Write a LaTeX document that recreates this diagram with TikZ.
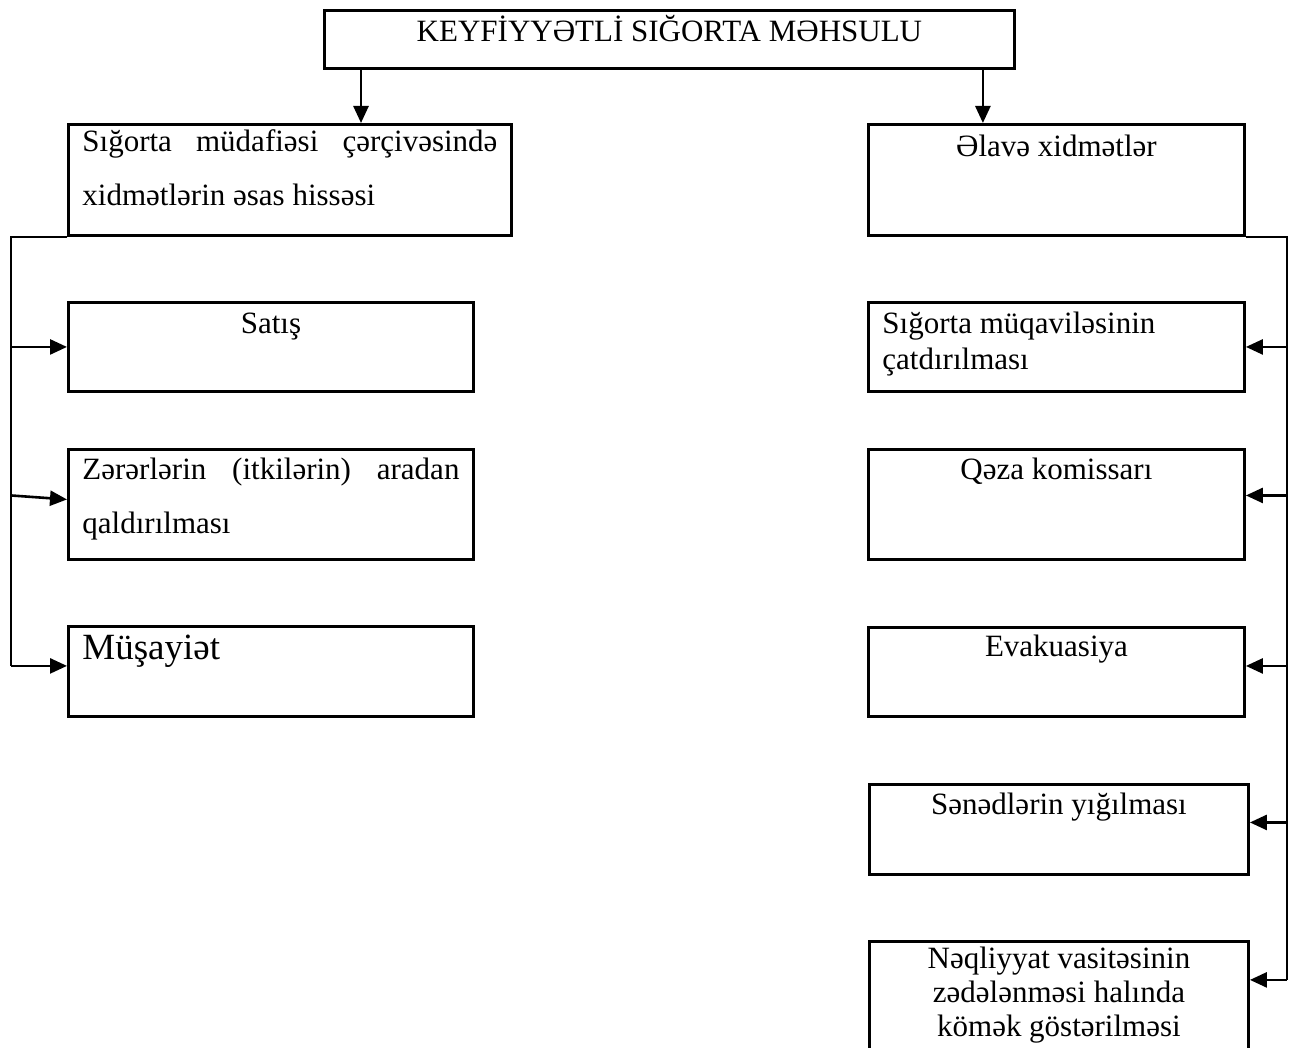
\documentclass[tikz,border=0pt]{standalone}
\usepackage{fontspec}
\setmainfont{Liberation Serif}
\usetikzlibrary{arrows.meta,calc}

\newcommand{\bodysize}{\fontsize{31}{35.6}\selectfont}

\begin{document}
\begin{tikzpicture}[x=1pt, y=-1pt,
    every node/.style={font=\bodysize},
    boxStyle/.style={draw, line width=2.9pt, inner xsep=14pt, inner ysep=0pt, anchor=north west},
    arrowLine/.style={-{Triangle[length=17pt,width=15pt]}, line width=2.6pt},
    trunkLine/.style={line width=2pt}
]
    \useasboundingbox (0,0) rectangle (1298,1048);

    % Titolo
    \node[boxStyle] (title) at (323,9) {\parbox[t][58pt][t]{662pt}{\centering\rule{0pt}{31pt}KEYFİYYƏTLİ SIĞORTA MƏHSULU}};

    % Due rami principali
    \node[boxStyle] (core) at (67,123) {\parbox[t][111pt][t]{415pt}{\fontsize{31}{54}\selectfont\rule{0pt}{27pt}Sığorta müdafiəsi çərçivəsində\linebreak xidmətlərin əsas hissəsi}};
    \node[boxStyle] (extra) at (867,123) {\parbox[t][111pt][t]{348pt}{\centering\rule{0pt}{32pt}Əlavə xidmətlər}};

    \draw[arrowLine] ([xshift=38pt]title.south west) -- ([xshift=38pt]title.south west |- core.north);
    \draw[arrowLine] ([xshift=-33pt]title.south east) -- ([xshift=-33pt]title.south east |- extra.north);

    % Colonna sinistra
    \node[boxStyle] (sales) at (67,301) {\parbox[t][89pt][t]{377pt}{\centering\rule{0pt}{31pt}Satış}};
    \node[boxStyle] (loss) at (67,448) {\parbox[t][110pt][t]{377pt}{\fontsize{31}{54}\selectfont\rule{0pt}{30pt}Zərərlərin (itkilərin) aradan\linebreak qaldırılması}};
    \node[boxStyle] (escort) at (67,625) {\parbox[t][90pt][t]{377pt}{\fontsize{37}{42}\selectfont\rule{0pt}{33pt}Müşayiət}};

    \draw[trunkLine] (core.south west) -- ++(-56,0) coordinate (leftTop) -- ++(0,429) coordinate (leftEnd);
    \draw[arrowLine] (leftTop |- sales.west) -- (sales.west);
    \draw[arrowLine] ($(leftTop |- loss.west)+(0,-9)$) -- ($(loss.west)+(0,-5)$);
    \draw[arrowLine] (leftEnd) -- (leftEnd -| escort.west);

    % Colonna destra
    \node[boxStyle] (delivery) at (867,301) {\parbox[t][89pt][t]{348pt}{\raggedright\rule{0pt}{31pt}Sığorta müqaviləsinin\\çatdırılması}};
    \node[boxStyle] (commissar) at (867,448) {\parbox[t][110pt][t]{348pt}{\centering\rule{0pt}{30pt}Qəza komissarı}};
    \node[boxStyle] (evac) at (867,626) {\parbox[t][89pt][t]{348pt}{\centering\rule{0pt}{29pt}Evakuasiya}};
    \node[boxStyle] (docs) at (868,783) {\parbox[t][90pt][t]{351pt}{\centering\rule{0pt}{30pt}Sənədlərin yığılması}};
    \node[boxStyle] (vehicle) at (868,940) {\parbox[t][115pt][t]{351pt}{\centering\fontsize{31}{34}\selectfont\rule{0pt}{27pt}Nəqliyyat vasitəsinin\\zədələnməsi halında\\kömək göstərilməsi}};

    \draw[trunkLine] (extra.south east) -- ++(41,0) coordinate (rightTop) -- ++(0,743) coordinate (rightEnd);
    \draw[arrowLine] (rightTop |- delivery.east) -- (delivery.east);
    \draw[arrowLine] ($(rightTop |- commissar.east)+(0,-9)$) -- ($(commissar.east)+(0,-9)$);
    \draw[arrowLine] ($(rightTop |- evac.east)+(0,-6)$) -- ($(evac.east)+(0,-6)$);
    \draw[arrowLine] ($(rightTop |- docs.east)+(0,-7)$) -- ($(docs.east)+(0,-7)$);
    \draw[arrowLine] (rightEnd) -- (rightEnd -| vehicle.east);
\end{tikzpicture}
\end{document}
